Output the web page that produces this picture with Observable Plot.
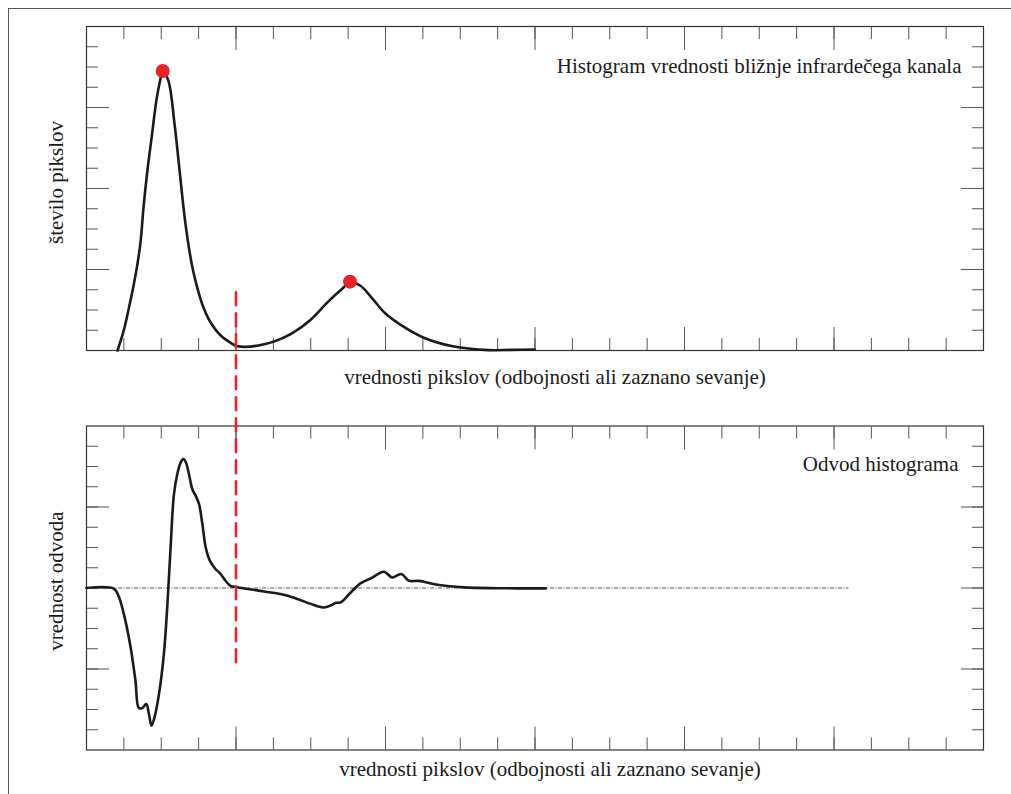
<!DOCTYPE html>
<html>
<head>
<meta charset="utf-8">
<script src="https://cdn.jsdelivr.net/npm/d3@7"></script>
<script src="https://cdn.jsdelivr.net/npm/@observablehq/plot@0.6"></script>
<style>
  body { margin: 0; background: #fff; }
  #wrap { position: relative; width: 1011px; height: 794px; overflow: hidden; background: #fff; }
  #border { position: absolute; left: 8px; top: 8px; width: 1200px; height: 1000px;
            border-left: 1.3px solid #555; border-top: 1.3px solid #555; }
  #top, #bottom { position: absolute; left: 0; }
  #top { top: 0; }
  #bottom { top: 400px; }
  svg { overflow: visible; }
</style>
</head>
<body>
<div id="wrap"><div id="border"></div><div id="top"></div><div id="bottom"></div></div>
<script>
// ---------- data (x in pixel-value units 0..24) ----------
const histX = [0.83, 0.99, 1.12, 1.26, 1.37, 1.45, 1.53, 1.63, 1.75, 1.87, 1.97, 2.04, 2.19, 2.36, 2.49, 2.62, 2.73, 2.84, 2.97, 3.13, 3.32, 3.59, 3.88, 4.02, 4.27, 4.60, 5.03, 5.51, 5.99, 6.46, 6.85, 7.05, 7.32, 7.61, 7.99, 8.47, 9.04, 9.80, 10.75, 11.35, 11.99];
const histY = [0, 0.94, 1.98, 3.21, 4.35, 5.43, 7.16, 8.89, 10.62, 12.35, 13.33, 13.83, 13.33, 11.11, 8.89, 6.67, 5.19, 4.05, 3.06, 2.12, 1.38, 0.74, 0.35, 0.22, 0.18, 0.25, 0.45, 0.86, 1.51, 2.40, 3.06, 3.35, 3.21, 2.65, 1.84, 1.19, 0.62, 0.21, 0.02, 0.03, 0.05];

const peakX = [2.04, 7.05];
const peakY = [13.8, 3.4];

const derivX = [0, 0.73, 0.87, 1.04, 1.18, 1.31, 1.40, 1.49, 1.60, 1.67, 1.74, 1.82, 1.94, 2.07, 2.16, 2.25, 2.34, 2.43, 2.52, 2.59, 2.66, 2.74, 2.83, 2.92, 3.01, 3.10, 3.19, 3.30, 3.45, 3.59, 3.72, 3.85, 4.03, 4.75, 5.28, 5.64, 6.08, 6.35, 6.53, 6.66, 6.80, 7.07, 7.33, 7.60, 7.96, 8.18, 8.42, 8.63, 8.89, 9.39, 10.10, 10.99, 12.29];
const derivY = [0, -0.03, -0.46, -1.61, -2.93, -4.58, -5.93, -5.93, -5.73, -6.22, -6.80, -6.39, -5.23, -3.26, -0.96, 2.00, 4.64, 5.63, 6.20, 6.37, 6.20, 5.63, 4.89, 4.56, 4.15, 3.16, 2.00, 1.35, 0.94, 0.69, 0.36, 0.11, 0.04, -0.17, -0.33, -0.54, -0.84, -0.96, -0.87, -0.74, -0.71, -0.22, 0.23, 0.47, 0.80, 0.52, 0.69, 0.36, 0.35, 0.16, 0.03, -0.01, -0.02];

const thresholdX = [4];
const thresholdTopY = 2.9;      // start of dashed line in histogram panel
const thresholdBottomY = -3.9;  // end of dashed line in derivative panel
const zeroLineX = [0, 20.4];

const xDomain = [0, 24];
const xMinorTicks = d3.range(1, 24);
const xMajorTicks = [4, 8, 12, 16, 20];
const topDomain = [0, 16];
const topMinorTicks = d3.range(1, 16);
const topMajorTicks = [4, 8, 12];
const botDomain = [-8, 8];
const botMinorTicks = d3.range(-7, 8);
const botMajorTicks = [-4, 0, 4];

const topTitle = "Histogram vrednosti bližnje infrardečega kanala";
const botTitle = "Odvod histograma";
const xLabel = "vrednosti pikslov (odbojnosti ali zaznano sevanje)";
const topYLabel = "število pikslov";
const botYLabel = "vrednost odvoda";

// ---------- layout ----------
const W = 1011, ML = 86, MR = 28;
const TOP_H = 400, TOP_MT = 26, TOP_MB = 50;
const BOT_H = 394, BOT_MT = 25.5, BOT_MB = 44.5;
const FONT = "'Liberation Serif', 'Times New Roman', serif";
const FS = 21;
const INK = "#1a1a1a", TICK = "#555", RED = "#e8232a";
const DASH = [15, 6];

function tickMarks(yMinor, yMajor) {
  const o = {stroke: TICK, strokeWidth: 1, tickFormat: () => "", label: null};
  return [
    Plot.axisX(xMinorTicks, {...o, anchor: "bottom", tickSize: -12}),
    Plot.axisX(xMajorTicks, {...o, anchor: "bottom", tickSize: -23}),
    Plot.axisX(xMinorTicks, {...o, anchor: "top", tickSize: -12}),
    Plot.axisX(xMajorTicks, {...o, anchor: "top", tickSize: -23}),
    Plot.axisY(yMinor, {...o, anchor: "left", tickSize: -12}),
    Plot.axisY(yMajor, {...o, anchor: "left", tickSize: -23}),
    Plot.axisY(yMinor, {...o, anchor: "right", tickSize: -12}),
    Plot.axisY(yMajor, {...o, anchor: "right", tickSize: -23}),
    Plot.frame({stroke: "#333", strokeWidth: 1.2})
  ];
}

const txt = {fontFamily: FONT, fontSize: FS, fill: INK};

// scales used to continue the dashed threshold line across the gap between panels
const topYScale = Plot.scale({y: {domain: topDomain, range: [TOP_H - TOP_MB, TOP_MT]}});
const botYScale = Plot.scale({y: {domain: botDomain, range: [BOT_H - BOT_MB, BOT_MT]}});
const topGapValue = topYScale.invert(TOP_H);
const botGapValue = botYScale.invert(0);
const topSegLen = topYScale.apply(topGapValue) - topYScale.apply(thresholdTopY);
const dashOffset = topSegLen % (DASH[0] + DASH[1]);

const topPlot = Plot.plot({
  width: W, height: TOP_H, marginLeft: ML, marginRight: MR, marginTop: TOP_MT, marginBottom: TOP_MB,
  x: {domain: xDomain}, y: {domain: topDomain},
  style: {fontFamily: FONT, overflow: "visible", background: "transparent"},
  marks: [
    ...tickMarks(topMinorTicks, topMajorTicks),
    Plot.line(histX.map((x, i) => [x, histY[i]]), {curve: "catmull-rom", stroke: INK, strokeWidth: 2.6}),
    Plot.ruleX(thresholdX, {y1: thresholdTopY, y2: topGapValue, stroke: RED, strokeWidth: 2.6, strokeDasharray: DASH.join(",")}),
    Plot.dot(peakX.map((x, i) => [x, peakY[i]]), {r: 7, fill: RED, stroke: "none"}),
    Plot.text([topTitle], {...txt, frameAnchor: "top-right", textAnchor: "end", lineAnchor: "bottom", dx: -22, dy: 46}),
    Plot.text([xLabel], {...txt, frameAnchor: "bottom", textAnchor: "middle", lineAnchor: "bottom", dx: 20, dy: 33}),
    Plot.text([topYLabel], {...txt, frameAnchor: "left", rotate: -90, textAnchor: "middle", lineAnchor: "middle", dx: -30, dy: -6})
  ]
});

const botPlot = Plot.plot({
  width: W, height: BOT_H, marginLeft: ML, marginRight: MR, marginTop: BOT_MT, marginBottom: BOT_MB,
  x: {domain: xDomain}, y: {domain: botDomain},
  style: {fontFamily: FONT, overflow: "visible", background: "transparent"},
  marks: [
    ...tickMarks(botMinorTicks, botMajorTicks),
    Plot.ruleY([0], {x1: zeroLineX[0], x2: zeroLineX[1], stroke: "#333", strokeWidth: 0.8, strokeDasharray: "4,1.5,1,1.5"}),
    Plot.line(derivX.map((x, i) => [x, derivY[i]]), {curve: "catmull-rom", stroke: INK, strokeWidth: 2.6}),
    Plot.ruleX(thresholdX, {y1: botGapValue, y2: thresholdBottomY, stroke: RED, strokeWidth: 2.6, strokeDasharray: DASH.join(","), strokeDashoffset: dashOffset}),
    Plot.text([botTitle], {...txt, frameAnchor: "top-right", textAnchor: "end", lineAnchor: "bottom", dx: -25, dy: 44.5}),
    Plot.text([xLabel], {...txt, frameAnchor: "bottom", textAnchor: "middle", lineAnchor: "bottom", dx: 15, dy: 26}),
    Plot.text([botYLabel], {...txt, frameAnchor: "left", rotate: -90, textAnchor: "middle", lineAnchor: "middle", dx: -30, dy: -7})
  ]
});

document.getElementById("top").appendChild(topPlot);
document.getElementById("bottom").appendChild(botPlot);
</script>
</body>
</html>
